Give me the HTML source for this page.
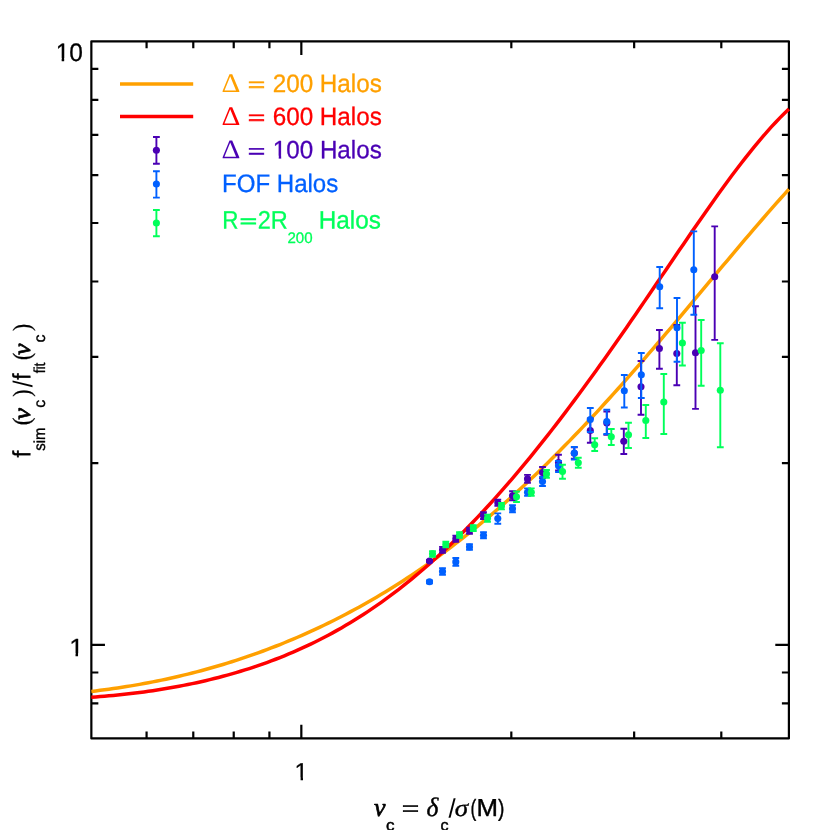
<!DOCTYPE html>
<html lang="en"><head><meta charset="utf-8"><title>Halo mass function ratio: f_sim / f_fit versus peak height</title>
<style>
html,body{margin:0;padding:0;background:#fff;width:830px;height:830px;overflow:hidden;font-family:"Liberation Sans",sans-serif}
</style></head>
<body>
<svg width="830" height="830" viewBox="0 0 830 830" style="position:absolute;left:0;top:0;will-change:transform">
<rect width="830" height="830" fill="#fff"/>
<!-- frame -->
<path d="M146.58,738.4v-7.0M146.58,41.3v7.0M193.28,738.4v-7.0M193.28,41.3v7.0M233.73,738.4v-7.0M233.73,41.3v7.0M269.42,738.4v-7.0M269.42,41.3v7.0M301.33,738.4v-13.6M301.33,41.3v13.6M511.32,738.4v-7.0M511.32,41.3v7.0M634.15,738.4v-7.0M634.15,41.3v7.0M721.30,738.4v-7.0M721.30,41.3v7.0M91.35,703.40h7.0M788.9,703.40h-7.0M91.35,672.52h7.0M788.9,672.52h-7.0M91.35,644.90h13.6M788.9,644.90h-13.6M91.35,463.20h7.0M788.9,463.20h-7.0M91.35,356.91h7.0M788.9,356.91h-7.0M91.35,281.50h7.0M788.9,281.50h-7.0M91.35,223.00h7.0M788.9,223.00h-7.0M91.35,175.21h7.0M788.9,175.21h-7.0M91.35,134.80h7.0M788.9,134.80h-7.0M91.35,99.79h7.0M788.9,99.79h-7.0M91.35,68.92h7.0M788.9,68.92h-7.0" stroke="#000" stroke-width="2.2" fill="none"/>
<rect x="91.35" y="41.3" width="697.55" height="697.10" fill="none" stroke="#000" stroke-width="2.2" stroke-linejoin="round"/>
<g fill="none" stroke-linecap="butt" stroke-linejoin="round">
<path d="M91.35,691.41 L95.74,690.90 L100.12,690.36 L104.51,689.80 L108.90,689.21 L113.29,688.60 L117.67,687.96 L122.06,687.30 L126.45,686.60 L130.83,685.89 L135.22,685.14 L139.61,684.37 L144.00,683.58 L148.38,682.75 L152.77,681.90 L157.16,681.02 L161.54,680.12 L165.93,679.18 L170.32,678.22 L174.71,677.23 L179.09,676.22 L183.48,675.17 L187.87,674.10 L192.25,672.99 L196.64,671.86 L201.03,670.70 L205.41,669.51 L209.80,668.29 L214.19,667.04 L218.58,665.76 L222.96,664.45 L227.35,663.11 L231.74,661.74 L236.12,660.33 L240.51,658.90 L244.90,657.43 L249.29,655.93 L253.67,654.40 L258.06,652.84 L262.45,651.24 L266.83,649.61 L271.22,647.95 L275.61,646.25 L280.00,644.52 L284.38,642.75 L288.77,640.95 L293.16,639.12 L297.54,637.24 L301.93,635.34 L306.32,633.40 L310.71,631.42 L315.09,629.40 L319.48,627.35 L323.87,625.26 L328.25,623.13 L332.64,620.97 L337.03,618.76 L341.42,616.52 L345.80,614.24 L350.19,611.92 L354.58,609.57 L358.96,607.17 L363.35,604.73 L367.74,602.25 L372.12,599.73 L376.51,597.17 L380.90,594.57 L385.29,591.92 L389.67,589.24 L394.06,586.51 L398.45,583.74 L402.83,580.93 L407.22,578.07 L411.61,575.17 L416.00,572.23 L420.38,569.24 L424.77,566.21 L429.16,563.14 L433.54,560.02 L437.93,556.85 L442.32,553.64 L446.71,550.38 L451.09,547.08 L455.48,543.73 L459.87,540.34 L464.25,536.90 L468.64,533.41 L473.03,529.88 L477.42,526.31 L481.80,522.68 L486.19,519.01 L490.58,515.30 L494.96,511.54 L499.35,507.73 L503.74,503.88 L508.13,499.99 L512.51,496.04 L516.90,492.06 L521.29,488.03 L525.67,483.95 L530.06,479.83 L534.45,475.67 L538.83,471.47 L543.22,467.22 L547.61,462.93 L552.00,458.59 L556.38,454.22 L560.77,449.80 L565.16,445.35 L569.54,440.85 L573.93,436.32 L578.32,431.75 L582.71,427.14 L587.09,422.49 L591.48,417.81 L595.87,413.09 L600.25,408.33 L604.64,403.54 L609.03,398.72 L613.42,393.86 L617.80,388.98 L622.19,384.06 L626.58,379.12 L630.96,374.14 L635.35,369.14 L639.74,364.11 L644.13,359.06 L648.51,353.98 L652.90,348.88 L657.29,343.76 L661.67,338.62 L666.06,333.46 L670.45,328.28 L674.84,323.09 L679.22,317.89 L683.61,312.67 L688.00,307.44 L692.38,302.21 L696.77,296.96 L701.16,291.72 L705.54,286.47 L709.93,281.22 L714.32,275.97 L718.71,270.73 L723.09,265.49 L727.48,260.26 L731.87,255.04 L736.25,249.83 L740.64,244.64 L745.03,239.46 L749.42,234.31 L753.80,229.17 L758.19,224.07 L762.58,218.99 L766.96,213.94 L771.35,208.93 L775.74,203.95 L780.13,199.02 L784.51,194.12 L788.90,189.27" stroke="#ffa000" stroke-width="3.5"/>
<path d="M91.35,697.22 L95.74,696.90 L100.12,696.57 L104.51,696.21 L108.90,695.83 L113.29,695.42 L117.67,694.99 L122.06,694.54 L126.45,694.06 L130.83,693.56 L135.22,693.03 L139.61,692.48 L144.00,691.90 L148.38,691.29 L152.77,690.65 L157.16,689.99 L161.54,689.30 L165.93,688.58 L170.32,687.83 L174.71,687.05 L179.09,686.24 L183.48,685.40 L187.87,684.52 L192.25,683.61 L196.64,682.67 L201.03,681.70 L205.41,680.69 L209.80,679.65 L214.19,678.57 L218.58,677.45 L222.96,676.30 L227.35,675.11 L231.74,673.88 L236.12,672.61 L240.51,671.29 L244.90,669.94 L249.29,668.55 L253.67,667.11 L258.06,665.63 L262.45,664.10 L266.83,662.53 L271.22,660.91 L275.61,659.25 L280.00,657.53 L284.38,655.77 L288.77,653.96 L293.16,652.09 L297.54,650.17 L301.93,648.20 L306.32,646.18 L310.71,644.10 L315.09,641.96 L319.48,639.77 L323.87,637.52 L328.25,635.21 L332.64,632.84 L337.03,630.40 L341.42,627.91 L345.80,625.35 L350.19,622.73 L354.58,620.05 L358.96,617.30 L363.35,614.48 L367.74,611.60 L372.12,608.66 L376.51,605.64 L380.90,602.56 L385.29,599.42 L389.67,596.20 L394.06,592.91 L398.45,589.56 L402.83,586.14 L407.22,582.65 L411.61,579.08 L416.00,575.45 L420.38,571.75 L424.77,567.98 L429.16,564.15 L433.54,560.24 L437.93,556.26 L442.32,552.21 L446.71,548.10 L451.09,543.91 L455.48,539.66 L459.87,535.34 L464.25,530.95 L468.64,526.49 L473.03,521.97 L477.42,517.38 L481.80,512.72 L486.19,508.00 L490.58,503.21 L494.96,498.36 L499.35,493.44 L503.74,488.46 L508.13,483.42 L512.51,478.32 L516.90,473.15 L521.29,467.93 L525.67,462.65 L530.06,457.30 L534.45,451.91 L538.83,446.45 L543.22,440.94 L547.61,435.38 L552.00,429.76 L556.38,424.09 L560.77,418.37 L565.16,412.60 L569.54,406.78 L573.93,400.91 L578.32,395.00 L582.71,389.05 L587.09,383.05 L591.48,377.01 L595.87,370.93 L600.25,364.81 L604.64,358.65 L609.03,352.46 L613.42,346.24 L617.80,339.98 L622.19,333.70 L626.58,327.38 L630.96,321.04 L635.35,314.68 L639.74,308.29 L644.13,301.88 L648.51,295.46 L652.90,289.03 L657.29,282.58 L661.67,276.13 L666.06,269.67 L670.45,263.22 L674.84,256.76 L679.22,250.32 L683.61,243.90 L688.00,237.49 L692.38,231.10 L696.77,224.74 L701.16,218.42 L705.54,212.13 L709.93,205.89 L714.32,199.70 L718.71,193.57 L723.09,187.50 L727.48,181.50 L731.87,175.58 L736.25,169.74 L740.64,163.99 L745.03,158.34 L749.42,152.80 L753.80,147.37 L758.19,142.06 L762.58,136.88 L766.96,131.85 L771.35,126.95 L775.74,122.22 L780.13,117.65 L784.51,113.25 L788.90,109.04" stroke="#ff0000" stroke-width="3.5"/>
</g>
<g stroke="#4a00b4" stroke-width="1.9" fill="#4a00b4">
<path d="M429.5,560.0V562.0M426.1,560.0H432.9M426.1,562.0H432.9"/>
<circle cx="429.5" cy="561.0" r="3.55" stroke="none"/>
<path d="M442.5,546.9V552.9M439.1,546.9H445.9M439.1,552.9H445.9"/>
<circle cx="442.5" cy="549.9" r="3.55" stroke="none"/>
<path d="M455.8,535.6V541.8M452.4,535.6H459.2M452.4,541.8H459.2"/>
<circle cx="455.8" cy="538.7" r="3.55" stroke="none"/>
<path d="M469.5,527.7V533.9M466.1,527.7H472.9M466.1,533.9H472.9"/>
<circle cx="469.5" cy="530.8" r="3.55" stroke="none"/>
<path d="M483.5,512.2V519.0M480.1,512.2H486.9M480.1,519.0H486.9"/>
<circle cx="483.5" cy="515.6" r="3.55" stroke="none"/>
<path d="M497.8,499.6V505.8M494.4,499.6H501.2M494.4,505.8H501.2"/>
<circle cx="497.8" cy="502.7" r="3.55" stroke="none"/>
<path d="M512.5,491.3V500.3M509.1,491.3H515.9M509.1,500.3H515.9"/>
<circle cx="512.5" cy="495.8" r="3.55" stroke="none"/>
<path d="M527.5,474.9V482.8M524.1,474.9H530.9M524.1,482.8H530.9"/>
<circle cx="527.5" cy="478.9" r="3.55" stroke="none"/>
<path d="M542.5,467.0V478.0M539.1,467.0H545.9M539.1,478.0H545.9"/>
<circle cx="542.5" cy="472.5" r="3.55" stroke="none"/>
<path d="M558.5,454.8V470.5M555.1,454.8H561.9M555.1,470.5H561.9"/>
<circle cx="558.5" cy="462.6" r="3.55" stroke="none"/>
<path d="M574.3,447.2V458.8M570.9,447.2H577.7M570.9,458.8H577.7"/>
<circle cx="574.3" cy="453.2" r="3.55" stroke="none"/>
<path d="M590.3,418.5V442.7M586.9,418.5H593.7M586.9,442.7H593.7"/>
<circle cx="590.3" cy="430.5" r="3.55" stroke="none"/>
<path d="M606.8,411.5V434.7M603.4,411.5H610.2M603.4,434.7H610.2"/>
<circle cx="606.8" cy="423.0" r="3.55" stroke="none"/>
<path d="M623.8,428.7V454.0M620.4,428.7H627.2M620.4,454.0H627.2"/>
<circle cx="623.8" cy="441.2" r="3.55" stroke="none"/>
<path d="M641.0,361.0V414.8M637.6,361.0H644.4M637.6,414.8H644.4"/>
<circle cx="641.0" cy="386.7" r="3.55" stroke="none"/>
<path d="M659.4,330.0V368.7M656.0,330.0H662.8M656.0,368.7H662.8"/>
<circle cx="659.4" cy="348.5" r="3.55" stroke="none"/>
<path d="M676.8,325.0V385.2M673.4,325.0H680.2M673.4,385.2H680.2"/>
<circle cx="676.8" cy="353.5" r="3.55" stroke="none"/>
<path d="M695.5,306.2V408.9M692.1,306.2H698.9M692.1,408.9H698.9"/>
<circle cx="695.5" cy="352.8" r="3.55" stroke="none"/>
<path d="M714.7,226.4V339.9M711.3,226.4H718.1M711.3,339.9H718.1"/>
<circle cx="714.7" cy="276.8" r="3.55" stroke="none"/>
</g>
<g stroke="#0060ff" stroke-width="1.9" fill="#0060ff">
<path d="M429.5,580.4V583.2M426.1,580.4H432.9M426.1,583.2H432.9"/>
<circle cx="429.5" cy="581.8" r="3.55" stroke="none"/>
<path d="M442.5,568.1V574.7M439.1,568.1H445.9M439.1,574.7H445.9"/>
<circle cx="442.5" cy="571.4" r="3.55" stroke="none"/>
<path d="M455.8,558.0V565.8M452.4,558.0H459.2M452.4,565.8H459.2"/>
<circle cx="455.8" cy="561.9" r="3.55" stroke="none"/>
<path d="M469.5,544.2V549.8M466.1,544.2H472.9M466.1,549.8H472.9"/>
<circle cx="469.5" cy="547.0" r="3.55" stroke="none"/>
<path d="M483.5,532.1V538.3M480.1,532.1H486.9M480.1,538.3H486.9"/>
<circle cx="483.5" cy="535.2" r="3.55" stroke="none"/>
<path d="M497.8,513.4V523.8M494.4,513.4H501.2M494.4,523.8H501.2"/>
<circle cx="497.8" cy="518.6" r="3.55" stroke="none"/>
<path d="M512.5,505.3V512.3M509.1,505.3H515.9M509.1,512.3H515.9"/>
<circle cx="512.5" cy="508.8" r="3.55" stroke="none"/>
<path d="M527.5,488.4V495.9M524.1,488.4H530.9M524.1,495.9H530.9"/>
<circle cx="527.5" cy="492.2" r="3.55" stroke="none"/>
<path d="M542.5,477.0V486.0M539.1,477.0H545.9M539.1,486.0H545.9"/>
<circle cx="542.5" cy="481.5" r="3.55" stroke="none"/>
<path d="M558.5,461.0V472.0M555.1,461.0H561.9M555.1,472.0H561.9"/>
<circle cx="558.5" cy="465.7" r="3.55" stroke="none"/>
<path d="M574.3,447.0V459.5M570.9,447.0H577.7M570.9,459.5H577.7"/>
<circle cx="574.3" cy="453.0" r="3.55" stroke="none"/>
<path d="M590.3,408.0V432.0M586.9,408.0H593.7M586.9,432.0H593.7"/>
<circle cx="590.3" cy="419.5" r="3.55" stroke="none"/>
<path d="M606.8,409.8V434.0M603.4,409.8H610.2M603.4,434.0H610.2"/>
<circle cx="606.8" cy="421.5" r="3.55" stroke="none"/>
<path d="M624.3,375.0V407.5M620.9,375.0H627.7M620.9,407.5H627.7"/>
<circle cx="624.3" cy="390.7" r="3.55" stroke="none"/>
<path d="M641.3,353.0V398.0M637.9,353.0H644.7M637.9,398.0H644.7"/>
<circle cx="641.3" cy="374.7" r="3.55" stroke="none"/>
<path d="M659.7,267.0V308.2M656.3,267.0H663.1M656.3,308.2H663.1"/>
<circle cx="659.7" cy="286.7" r="3.55" stroke="none"/>
<path d="M677.0,298.0V361.8M673.6,298.0H680.4M673.6,361.8H680.4"/>
<circle cx="677.0" cy="327.8" r="3.55" stroke="none"/>
<path d="M693.8,231.4V314.8M690.4,231.4H697.2M690.4,314.8H697.2"/>
<circle cx="693.8" cy="269.8" r="3.55" stroke="none"/>
</g>
<g stroke="#00ff5a" stroke-width="1.9" fill="#00ff5a">
<path d="M432.5,551.1V556.7M429.1,551.1H435.9M429.1,556.7H435.9"/>
<circle cx="432.5" cy="553.9" r="3.55" stroke="none"/>
<path d="M445.8,541.8V547.2M442.4,541.8H449.2M442.4,547.2H449.2"/>
<circle cx="445.8" cy="544.5" r="3.55" stroke="none"/>
<path d="M459.5,532.3V537.9M456.1,532.3H462.9M456.1,537.9H462.9"/>
<circle cx="459.5" cy="535.1" r="3.55" stroke="none"/>
<path d="M473.3,525.1V531.0M469.9,525.1H476.7M469.9,531.0H476.7"/>
<circle cx="473.3" cy="528.1" r="3.55" stroke="none"/>
<path d="M487.5,514.6V521.8M484.1,514.6H490.9M484.1,521.8H490.9"/>
<circle cx="487.5" cy="518.2" r="3.55" stroke="none"/>
<path d="M501.5,502.9V509.4M498.1,502.9H504.9M498.1,509.4H504.9"/>
<circle cx="501.5" cy="506.1" r="3.55" stroke="none"/>
<path d="M516.5,491.5V502.0M513.1,491.5H519.9M513.1,502.0H519.9"/>
<circle cx="516.5" cy="496.8" r="3.55" stroke="none"/>
<path d="M531.3,488.4V495.9M527.9,488.4H534.7M527.9,495.9H534.7"/>
<circle cx="531.3" cy="492.2" r="3.55" stroke="none"/>
<path d="M546.5,470.0V477.8M543.1,470.0H549.9M543.1,477.8H549.9"/>
<circle cx="546.5" cy="473.9" r="3.55" stroke="none"/>
<path d="M562.5,464.7V478.7M559.1,464.7H565.9M559.1,478.7H565.9"/>
<circle cx="562.5" cy="471.5" r="3.55" stroke="none"/>
<path d="M578.3,457.8V467.8M574.9,457.8H581.7M574.9,467.8H581.7"/>
<circle cx="578.3" cy="462.8" r="3.55" stroke="none"/>
<path d="M594.7,438.3V451.0M591.3,438.3H598.1M591.3,451.0H598.1"/>
<circle cx="594.7" cy="444.7" r="3.55" stroke="none"/>
<path d="M611.3,429.0V445.0M607.9,429.0H614.7M607.9,445.0H614.7"/>
<circle cx="611.3" cy="436.8" r="3.55" stroke="none"/>
<path d="M628.5,422.8V448.0M625.1,422.8H631.9M625.1,448.0H631.9"/>
<circle cx="628.5" cy="434.7" r="3.55" stroke="none"/>
<path d="M645.8,405.0V438.0M642.4,405.0H649.2M642.4,438.0H649.2"/>
<circle cx="645.8" cy="420.5" r="3.55" stroke="none"/>
<path d="M663.8,374.0V434.0M660.4,374.0H667.2M660.4,434.0H667.2"/>
<circle cx="663.8" cy="402.0" r="3.55" stroke="none"/>
<path d="M682.4,322.7V365.5M679.0,322.7H685.8M679.0,365.5H685.8"/>
<circle cx="682.4" cy="343.0" r="3.55" stroke="none"/>
<path d="M701.2,320.0V385.7M697.8,320.0H704.6M697.8,385.7H704.6"/>
<circle cx="701.2" cy="350.5" r="3.55" stroke="none"/>
<path d="M720.3,343.3V447.2M716.9,343.3H723.7M716.9,447.2H723.7"/>
<circle cx="720.3" cy="390.2" r="3.55" stroke="none"/>
</g>
<!-- legend -->
<path d="M120,83.9H193.2" stroke="#ffa000" stroke-width="3.5"/>
<path d="M120,116.6H193.2" stroke="#ff0000" stroke-width="3.5"/>
<g stroke="#4a00b4" stroke-width="1.9" fill="#4a00b4">
<path d="M156.4,137.0V163.7M153.0,137.0H159.8M153.0,163.7H159.8"/>
<circle cx="156.4" cy="150.2" r="3.55" stroke="none"/>
</g>
<g stroke="#0060ff" stroke-width="1.9" fill="#0060ff">
<path d="M156.4,171.3V197.6M153.0,171.3H159.8M153.0,197.6H159.8"/>
<circle cx="156.4" cy="184.0" r="3.55" stroke="none"/>
</g>
<g stroke="#00ff5a" stroke-width="1.9" fill="#00ff5a">
<path d="M156.4,210.0V236.3M153.0,210.0H159.8M153.0,236.3H159.8"/>
<circle cx="156.4" cy="223.0" r="3.55" stroke="none"/>
</g>
<clipPath id="k1"><path d="M-2,-25.30H11.38V-2.59H8.75V1H6.21V-2.59H-2ZM11.38,-30.36H759.00V25.30H13.79V-2.59H11.38Z"/></clipPath><text transform="translate(55.70,60.90) rotate(0.03) scale(0.9669,1)" font-family="Liberation Sans" font-size="25.30" fill="#000" stroke="#000" stroke-width="0.3" stroke-linejoin="round" clip-path="url(#k1)">10</text>
<clipPath id="k2"><path d="M-2,-24.80H11.16V-2.53H8.55V1H6.11V-2.53H-2Z"/></clipPath><text transform="translate(69.14,655.90) rotate(0.03) scale(1.0426,1)" font-family="Liberation Sans" font-size="24.80" fill="#000" stroke="#000" stroke-width="0.25" stroke-linejoin="round" clip-path="url(#k2)">1</text>
<clipPath id="k3"><path d="M-2,-24.50H11.03V-2.51H8.45V1H6.04V-2.51H-2Z"/></clipPath><text transform="translate(294.58,780.00) rotate(0.03) scale(0.9967,1)" font-family="Liberation Sans" font-size="24.50" fill="#000" stroke="#000" stroke-width="0.25" stroke-linejoin="round" clip-path="url(#k3)">1</text>
<text transform="translate(221.48,91.95) rotate(0.03) scale(1.0886,1)" font-family="Liberation Serif" font-size="27.04" fill="#ffa000">Δ</text>
<text transform="translate(247.71,92.81) rotate(0.03) scale(1.2902,1)" font-family="Liberation Serif" font-size="23.98" fill="#ffa000" stroke="#ffa000" stroke-width="0.71">=</text>
<text transform="translate(272.73,91.90) rotate(0.03) scale(0.9614,1)" font-family="Liberation Sans" font-size="25.20" fill="#ffa000" stroke="#ffa000" stroke-width="0.3" stroke-linejoin="round">200 Halos</text>
<text transform="translate(221.48,124.95) rotate(0.03) scale(1.0886,1)" font-family="Liberation Serif" font-size="27.04" fill="#ff0000">Δ</text>
<text transform="translate(247.71,125.81) rotate(0.03) scale(1.2902,1)" font-family="Liberation Serif" font-size="23.98" fill="#ff0000" stroke="#ff0000" stroke-width="0.71">=</text>
<text transform="translate(272.72,124.90) rotate(0.03) scale(0.9615,1)" font-family="Liberation Sans" font-size="25.20" fill="#ff0000" stroke="#ff0000" stroke-width="0.3" stroke-linejoin="round">600 Halos</text>
<text transform="translate(221.48,158.35) rotate(0.03) scale(1.0886,1)" font-family="Liberation Serif" font-size="27.04" fill="#4a00b4">Δ</text>
<text transform="translate(247.71,159.21) rotate(0.03) scale(1.2902,1)" font-family="Liberation Serif" font-size="23.98" fill="#4a00b4" stroke="#4a00b4" stroke-width="0.71">=</text>
<clipPath id="k4"><path d="M-2,-25.20H11.34V-2.58H8.71V1H6.19V-2.58H-2ZM11.34,-30.24H756.00V25.20H13.73V-2.58H11.34Z"/></clipPath><text transform="translate(272.82,158.30) rotate(0.03) scale(0.9606,1)" font-family="Liberation Sans" font-size="25.20" fill="#4a00b4" stroke="#4a00b4" stroke-width="0.3" stroke-linejoin="round" clip-path="url(#k4)">100 Halos</text>
<text transform="translate(221.98,191.90) rotate(0.03) scale(0.9551,1)" font-family="Liberation Sans" font-size="25.20" fill="#0060ff" stroke="#0060ff" stroke-width="0.3" stroke-linejoin="round">FOF Halos</text>
<text transform="translate(222.21,228.40) rotate(0.03) scale(0.8889,1)" font-family="Liberation Sans" font-size="25.20" fill="#00ff5a" stroke="#00ff5a" stroke-width="0.3" stroke-linejoin="round">R</text>
<text transform="translate(239.66,228.17) rotate(0.03) scale(1.4489,1)" font-family="Liberation Serif" font-size="20.98" fill="#00ff5a" stroke="#00ff5a" stroke-width="0.96">=</text>
<text transform="translate(257.77,228.40) rotate(0.03) scale(0.9336,1)" font-family="Liberation Sans" font-size="25.20" fill="#00ff5a" stroke="#00ff5a" stroke-width="0.3" stroke-linejoin="round">2R</text>
<text transform="translate(287.49,243.00) rotate(0.03) scale(0.9851,1)" font-family="Liberation Sans" font-size="15.30" fill="#00ff5a" stroke="#00ff5a" stroke-width="0.3" stroke-linejoin="round">200</text>
<text transform="translate(318.76,228.40) rotate(0.03) scale(0.9650,1)" font-family="Liberation Sans" font-size="25.20" fill="#00ff5a" stroke="#00ff5a" stroke-width="0.3" stroke-linejoin="round">Halos</text>
<text transform="translate(373.90,815.90) rotate(0.03) scale(0.9924,1)" font-family="Liberation Serif" font-style="italic" font-size="26.00" fill="#000" stroke="#000" stroke-width="0.7" stroke-linejoin="round">ν</text>
<text transform="translate(385.90,830.60) rotate(0.03) scale(1.0655,1)" font-family="Liberation Sans" font-size="16.00" fill="#000" stroke="#000" stroke-width="0.45" stroke-linejoin="round">c</text>
<text transform="translate(401.85,816.83) rotate(0.03) scale(1.2660,1)" font-family="Liberation Serif" font-size="24.48" fill="#000" stroke="#000" stroke-width="0.58">=</text>
<text transform="translate(426.58,816.00) rotate(0.03) scale(0.9593,1)" font-family="Liberation Serif" font-style="italic" font-size="26.60" fill="#000" stroke="#000" stroke-width="0.45" stroke-linejoin="round">δ</text>
<text transform="translate(440.54,830.50) rotate(0.03) scale(1.0075,1)" font-family="Liberation Sans" font-size="16.00" fill="#000" stroke="#000" stroke-width="0.45" stroke-linejoin="round">c</text>
<text transform="translate(448.60,817.60) rotate(0.03) scale(0.9607,1)" font-family="Liberation Sans" font-size="26.60" fill="#000">/</text>
<text transform="translate(454.87,816.00) rotate(0.03) scale(1.1179,1)" font-family="Liberation Serif" font-style="italic" font-size="24.30" fill="#000" stroke="#000" stroke-width="0.35" stroke-linejoin="round">σ</text>
<text transform="translate(470.42,815.80) rotate(0.03) scale(0.7351,1)" font-family="Liberation Sans" font-size="23.60" fill="#000" stroke="#000" stroke-width="0.4" stroke-linejoin="round">(</text>
<text transform="translate(476.38,816.00) rotate(0.03) scale(1.0513,1)" font-family="Liberation Sans" font-size="24.60" fill="#000" stroke="#000" stroke-width="0.4" stroke-linejoin="round">M</text>
<text transform="translate(497.89,815.80) rotate(0.03) scale(0.8151,1)" font-family="Liberation Sans" font-size="23.60" fill="#000" stroke="#000" stroke-width="0.4" stroke-linejoin="round">)</text>
<g transform="translate(30.25,457.3) rotate(-90)"><text transform="translate(-0.14,0.00) rotate(0.03) scale(0.9694,1)" font-family="Liberation Sans" font-size="24.90" fill="#000" stroke="#000" stroke-width="0.4" stroke-linejoin="round">f</text>
<text transform="translate(6.56,14.75) rotate(0.03) scale(0.9302,1)" font-family="Liberation Sans" font-size="16.00" fill="#000" stroke="#000" stroke-width="0.35" stroke-linejoin="round">sim</text>
<text transform="translate(31.93,-0.40) rotate(0.03) scale(0.9267,1)" font-family="Liberation Serif" font-size="25.00" fill="#000" stroke="#000" stroke-width="0.3" stroke-linejoin="round">(</text>
<text transform="translate(37.59,-0.20) rotate(0.03) scale(1.0725,1)" font-family="Liberation Serif" font-style="italic" font-size="24.60" fill="#000" stroke="#000" stroke-width="0.7" stroke-linejoin="round">ν</text>
<text transform="translate(49.59,14.75) rotate(0.03) scale(1.0075,1)" font-family="Liberation Sans" font-size="16.00" fill="#000" stroke="#000" stroke-width="0.35" stroke-linejoin="round">c</text>
<text transform="translate(60.66,-0.40) rotate(0.03) scale(0.8566,1)" font-family="Liberation Serif" font-size="25.00" fill="#000" stroke="#000" stroke-width="0.3" stroke-linejoin="round">)</text>
<text transform="translate(70.00,1.90) rotate(0.03) scale(0.8998,1)" font-family="Liberation Sans" font-size="27.20" fill="#000">/</text>
<text transform="translate(77.58,0.00) rotate(0.03) scale(0.8937,1)" font-family="Liberation Sans" font-size="24.90" fill="#000" stroke="#000" stroke-width="0.4" stroke-linejoin="round">f</text>
<text transform="translate(83.98,14.75) rotate(0.03) scale(0.8635,1)" font-family="Liberation Sans" font-size="16.00" fill="#000" stroke="#000" stroke-width="0.35" stroke-linejoin="round">fit</text>
<text transform="translate(97.22,-0.40) rotate(0.03) scale(0.8488,1)" font-family="Liberation Serif" font-size="25.00" fill="#000" stroke="#000" stroke-width="0.3" stroke-linejoin="round">(</text>
<text transform="translate(102.30,-0.20) rotate(0.03) scale(1.0489,1)" font-family="Liberation Serif" font-style="italic" font-size="24.60" fill="#000" stroke="#000" stroke-width="0.7" stroke-linejoin="round">ν</text>
<text transform="translate(114.80,14.75) rotate(0.03) scale(0.9930,1)" font-family="Liberation Sans" font-size="16.00" fill="#000" stroke="#000" stroke-width="0.35" stroke-linejoin="round">c</text>
<text transform="translate(126.36,-0.40) rotate(0.03) scale(0.8566,1)" font-family="Liberation Serif" font-size="25.00" fill="#000" stroke="#000" stroke-width="0.3" stroke-linejoin="round">)</text></g>
</svg>
</body></html>
